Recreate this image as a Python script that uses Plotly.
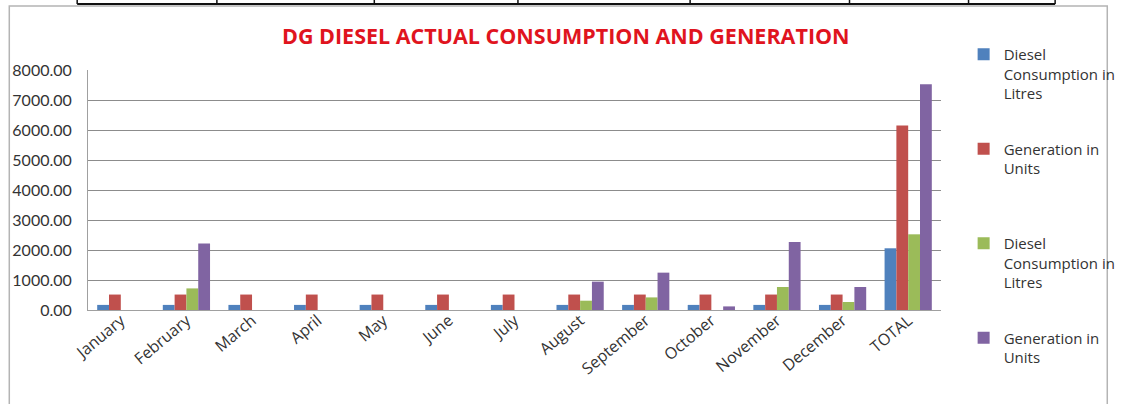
import plotly.graph_objects as go

categories = ["January", "February", "March", "April", "May", "June", "July",
              "August", "September", "October", "November", "December", "TOTAL"]
diesel_litres_1 = [170, 170, 170, 170, 170, 170, 170, 170, 170, 170, 170, 170, 2057]
generation_units_1 = [515, 515, 515, 515, 515, 515, 515, 515, 515, 515, 515, 515, 6150]
diesel_litres_2 = [0, 720, 0, 0, 0, 0, 0, 310, 420, 0, 767, 267, 2523]
generation_units_2 = [0, 2220, 0, 0, 0, 0, 0, 945, 1245, 120, 2267, 767, 7523]
y_ticks = [0, 1000, 2000, 3000, 4000, 5000, 6000, 7000, 8000]

W, H = 1133, 404
L, R, T, B = 88, 955, 70, 310


def px(x):
    return (x - L) / (R - L)


def py(y):
    return (B - y) / (B - T)


FONT = "Open Sans"
TXT = "#333333"

series = [
    ("Diesel<br>Consumption in<br>Litres", diesel_litres_1, "#4F81BD"),
    ("Generation in<br>Units<br> ", generation_units_1, "#C0504D"),
    ("Diesel<br>Consumption in<br>Litres", diesel_litres_2, "#9BBB59"),
    ("Generation in<br>Units<br> ", generation_units_2, "#8064A2"),
]

fig = go.Figure()
for i, (name, vals, col) in enumerate(series):
    fig.add_trace(go.Bar(x=categories, y=vals, name=name, marker_color=col,
                         marker_line_width=0, legendgroup=str(i)))

shapes = []
# chart frame
shapes.append(dict(type="rect", xref="paper", yref="paper",
                   x0=px(8), x1=px(1124), y0=py(6), y1=py(420),
                   line=dict(color="#b4b4b4", width=1.5), layer="below"))
# table remnant at top
shapes.append(dict(type="line", xref="paper", yref="paper",
                   x0=px(77), x1=px(1071), y0=py(4), y1=py(4),
                   line=dict(color="#111111", width=2)))
for xv in [77, 219, 379, 525, 700, 862, 983, 1071]:
    shapes.append(dict(type="line", xref="paper", yref="paper",
                       x0=px(xv), x1=px(xv), y0=py(-5), y1=py(4),
                       line=dict(color="#111111", width=1.5)))

fig.update_layout(
    width=W, height=H,
    margin=dict(l=L, r=W - R, t=T, b=H - B, pad=0),
    paper_bgcolor="white", plot_bgcolor="white",
    barmode="group", bargap=0.28, bargroupgap=0,
    font=dict(family=FONT, color=TXT),
    shapes=shapes,
    showlegend=True,
    legend=dict(x=px(978), y=py(38), xanchor="left", yanchor="top",
                valign="top", font=dict(size=15, family=FONT, color=TXT),
                tracegroupgap=33, itemwidth=30, bgcolor="rgba(0,0,0,0)",
                traceorder="grouped", maxheight=400),
    annotations=[dict(text="<b>DG DIESEL ACTUAL CONSUMPTION AND GENERATION</b>",
                      xref="paper", yref="paper", x=px(574), y=py(35),
                      xanchor="center", yanchor="middle", showarrow=False,
                      font=dict(size=21.5, family=FONT, color="#E0141E"))],
)
fig.update_yaxes(range=[0, 8000], tickvals=y_ticks,
                 ticktext=[f"{v:.2f}" for v in y_ticks],
                 showgrid=True, gridcolor="#8c8c8c", gridwidth=1,
                 showline=True, linecolor="#a0a0a0", linewidth=1,
                 zeroline=False, ticks="", ticklabelstandoff=12,
                 tickfont=dict(size=16, family="Lato", color=TXT))
fig.update_xaxes(showline=True, linecolor="#a0a0a0", linewidth=1,
                 showgrid=False, ticks="", tickangle=-40, ticklabelstandoff=-6,
                 tickfont=dict(size=16, family=FONT, color=TXT))

fig.write_html("out.html")
